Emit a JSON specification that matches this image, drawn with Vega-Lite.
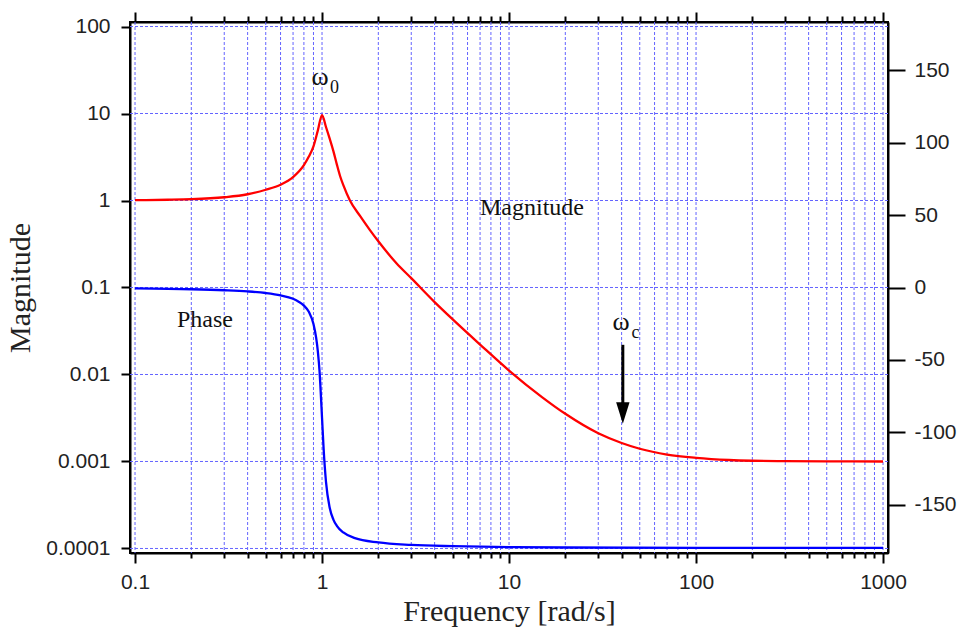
{
  "$schema": "https://vega.github.io/schema/vega-lite/v6.json",
  "width": 758,
  "height": 531,
  "autosize": "none",
  "padding": {"left": 130, "top": 22, "right": 70, "bottom": 80},
  "background": "white",
  "config": {
    "view": {"stroke": "black", "strokeWidth": 2},
    "axis": {
      "labelFont": "Liberation Sans",
      "labelFontSize": 21,
      "labelColor": "#222222",
      "titleFont": "Liberation Serif",
      "titleFontSize": 30,
      "titleFontWeight": "normal",
      "titleColor": "#222222",
      "domainColor": "black",
      "domainWidth": 2,
      "tickColor": "black",
      "tickWidth": 2,
      "labelFlush": false,
      "labelOverlap": false,
      "grid": false
    }
  },
  "layer": [
    {
      "layer": [
        {
          "data": {"values": [
            {"gx": 0.1}, {"gx": 0.2}, {"gx": 0.3}, {"gx": 0.4}, {"gx": 0.5}, {"gx": 0.6}, {"gx": 0.7}, {"gx": 0.8}, {"gx": 0.9},
            {"gx": 1}, {"gx": 2}, {"gx": 3}, {"gx": 4}, {"gx": 5}, {"gx": 6}, {"gx": 7}, {"gx": 8}, {"gx": 9},
            {"gx": 10}, {"gx": 20}, {"gx": 30}, {"gx": 40}, {"gx": 50}, {"gx": 60}, {"gx": 70}, {"gx": 80}, {"gx": 90},
            {"gx": 100}, {"gx": 200}, {"gx": 300}, {"gx": 400}, {"gx": 500}, {"gx": 600}, {"gx": 700}, {"gx": 800}, {"gx": 900},
            {"gx": 1000}
          ]},
          "mark": {"type": "rule", "color": "#6464ff", "strokeWidth": 1, "strokeDash": [3, 2]},
          "encoding": {
            "x": {"field": "gx", "type": "quantitative", "title": "Frequency [rad/s]", "scale": {"type": "log", "domain": [0.094, 1063], "nice": false}}
          }
        },
        {
          "data": {"values": [{"gy": 0.0001}, {"gy": 0.001}, {"gy": 0.01}, {"gy": 0.1}, {"gy": 1}, {"gy": 10}, {"gy": 100}]},
          "mark": {"type": "rule", "color": "#6464ff", "strokeWidth": 1, "strokeDash": [3, 2]},
          "encoding": {
            "y": {"field": "gy", "type": "quantitative", "title": "Magnitude", "scale": {"type": "log", "domain": [8.87e-5, 112.7], "nice": false}}
          }
        },
        {
          "data": {
            "values": [
              {"f": 0.1, "mag": 1.01}, {"f": 0.15, "mag": 1.02}, {"f": 0.2, "mag": 1.035},
              {"f": 0.3, "mag": 1.09}, {"f": 0.4, "mag": 1.18}, {"f": 0.5, "mag": 1.33},
              {"f": 0.6, "mag": 1.52}, {"f": 0.7, "mag": 1.86}, {"f": 0.8, "mag": 2.55},
              {"f": 0.85, "mag": 3.2}, {"f": 0.9, "mag": 4.2}, {"f": 0.95, "mag": 6.4},
              {"f": 1.0, "mag": 9.6}, {"f": 1.05, "mag": 7.0}, {"f": 1.1, "mag": 5.1},
              {"f": 1.15, "mag": 3.7}, {"f": 1.2, "mag": 2.6}, {"f": 1.25, "mag": 1.9},
              {"f": 1.3, "mag": 1.5}, {"f": 1.41, "mag": 1.0}, {"f": 1.6, "mag": 0.66},
              {"f": 1.8, "mag": 0.46}, {"f": 2, "mag": 0.34}, {"f": 2.5, "mag": 0.19},
              {"f": 3, "mag": 0.128}, {"f": 4, "mag": 0.068}, {"f": 5, "mag": 0.043},
              {"f": 7, "mag": 0.0221}, {"f": 10, "mag": 0.0111}, {"f": 15, "mag": 0.0055},
              {"f": 20, "mag": 0.00353}, {"f": 30, "mag": 0.00211}, {"f": 40, "mag": 0.00163},
              {"f": 50, "mag": 0.0014}, {"f": 70, "mag": 0.0012}, {"f": 100, "mag": 0.0011},
              {"f": 150, "mag": 0.00104}, {"f": 200, "mag": 0.00102}, {"f": 300, "mag": 0.00101},
              {"f": 500, "mag": 0.001004}, {"f": 1000, "mag": 0.001}
            ]
          },
          "mark": {"type": "line", "color": "#ff0000", "strokeWidth": 2.3, "interpolate": "monotone"},
          "encoding": {
            "x": {
              "field": "f", "type": "quantitative", "title": "Frequency [rad/s]",
              "scale": {"type": "log", "domain": [0.094, 1063], "nice": false},
              "axis": {
                "orient": "bottom",
                "values": [0.1,0.2,0.3,0.4,0.5,0.6,0.7,0.8,0.9,1,2,3,4,5,6,7,8,9,10,20,30,40,50,60,70,80,90,100,200,300,400,500,600,700,800,900,1000],
                "labelExpr": "indexof([0.1,1,10,100,1000], datum.value) >= 0 ? format(datum.value, '~g') : ''",
                "tickSize": {"condition": {"test": "indexof([0.1,1,10,100,1000], datum.value) >= 0", "value": 10}, "value": 5},
                "labelPadding": 8,
                "titlePadding": 4,
                "grid": false
              }
            },
            "y": {
              "field": "mag", "type": "quantitative", "title": "Magnitude",
              "scale": {"type": "log", "domain": [8.87e-5, 112.7], "nice": false},
              "axis": {
                "orient": "left",
                "values": [0.0001, 0.001, 0.01, 0.1, 1, 10, 100],
                "labelExpr": "format(datum.value, '~g')",
                "tickSize": 9,
                "labelPadding": 11,
                "titlePadding": 10,
                "grid": false
              }
            }
          }
        },
        {
          "data": {"values": [{"f": 13.27, "mag": 0.69, "label": "Magnitude"}, {"f": 0.2366, "mag": 0.0347, "label": "Phase"}]},
          "mark": {"type": "text", "font": "Liberation Serif", "fontSize": 24, "color": "#111111", "align": "center", "baseline": "alphabetic"},
          "encoding": {
            "x": {"field": "f", "type": "quantitative", "title": "Frequency [rad/s]"},
            "y": {"field": "mag", "type": "quantitative", "title": "Magnitude"},
            "text": {"field": "label"}
          }
        },
        {
          "data": {"values": [{"f": 0.976, "mag": 21.0, "label": "ω"}, {"f": 39.7, "mag": 0.0321, "label": "ω"}]},
          "mark": {"type": "text", "font": "Liberation Serif", "fontSize": 26, "color": "#111111", "align": "center", "baseline": "alphabetic"},
          "encoding": {
            "x": {"field": "f", "type": "quantitative", "title": "Frequency [rad/s]"},
            "y": {"field": "mag", "type": "quantitative", "title": "Magnitude"},
            "text": {"field": "label"}
          }
        },
        {
          "data": {"values": [{"f": 1.104, "mag": 17.0, "label": "0"}, {"f": 45.2, "mag": 0.02594, "label": "c"}]},
          "mark": {"type": "text", "font": "Liberation Serif", "fontSize": 18, "color": "#111111", "align": "left", "baseline": "alphabetic"},
          "encoding": {
            "x": {"field": "f", "type": "quantitative", "title": "Frequency [rad/s]"},
            "y": {"field": "mag", "type": "quantitative", "title": "Magnitude"},
            "text": {"field": "label"}
          }
        },
        {
          "data": {"values": [{"f": 40.6, "mag": 0.02193, "mag2": 0.00441}]},
          "mark": {"type": "rule", "color": "black", "strokeWidth": 3},
          "encoding": {
            "x": {"field": "f", "type": "quantitative", "title": "Frequency [rad/s]"},
            "y": {"field": "mag", "type": "quantitative", "title": "Magnitude"},
            "y2": {"field": "mag2"}
          }
        },
        {
          "data": {"values": [{"f": 40.6, "mag": 0.00361}]},
          "mark": {"type": "point", "shape": "M-0.62,-1L0.62,-1L0,1Z", "size": 467, "filled": true, "color": "black", "opacity": 1, "strokeWidth": 0},
          "encoding": {
            "x": {"field": "f", "type": "quantitative", "title": "Frequency [rad/s]"},
            "y": {"field": "mag", "type": "quantitative", "title": "Magnitude"}
          }
        }
      ]
    },
    {
      "data": {
        "values": [
          {"f": 0.1, "phase": -0.6}, {"f": 0.2, "phase": -1.2}, {"f": 0.3, "phase": -1.9},
          {"f": 0.4, "phase": -2.7}, {"f": 0.5, "phase": -3.8}, {"f": 0.6, "phase": -5.4},
          {"f": 0.7, "phase": -7.8}, {"f": 0.75, "phase": -9.8}, {"f": 0.8, "phase": -12.5},
          {"f": 0.85, "phase": -16.8}, {"f": 0.9, "phase": -25.3}, {"f": 0.93, "phase": -34.7},
          {"f": 0.95, "phase": -44.3}, {"f": 0.97, "phase": -58}, {"f": 0.98, "phase": -68},
          {"f": 1.0, "phase": -90}, {"f": 1.02, "phase": -111.6}, {"f": 1.05, "phase": -134.3},
          {"f": 1.1, "phase": -152.4}, {"f": 1.15, "phase": -160.4}, {"f": 1.2, "phase": -164.7},
          {"f": 1.3, "phase": -169.3}, {"f": 1.5, "phase": -173.2}, {"f": 2, "phase": -176.2},
          {"f": 3, "phase": -177.9}, {"f": 5, "phase": -178.8}, {"f": 10, "phase": -179.4},
          {"f": 20, "phase": -179.7}, {"f": 100, "phase": -179.9}, {"f": 1000, "phase": -180}
        ]
      },
      "mark": {"type": "line", "color": "#0000ff", "strokeWidth": 2.3, "interpolate": "monotone"},
      "encoding": {
        "x": {
          "field": "f", "type": "quantitative",
          "axis": {
            "orient": "top",
            "title": null,
            "values": [0.1,0.2,0.3,0.4,0.5,0.6,0.7,0.8,0.9,1,2,3,4,5,6,7,8,9,10,20,30,40,50,60,70,80,90,100,200,300,400,500,600,700,800,900,1000],
            "labels": false,
            "grid": false,
            "tickSize": {"condition": {"test": "indexof([0.1,1,10,100,1000], datum.value) >= 0", "value": 10}, "value": 6}
          }
        },
        "y": {
          "field": "phase", "type": "quantitative",
          "scale": {"domain": [-183.5, 183.5], "nice": false, "zero": false},
          "axis": {
            "orient": "right",
            "title": null,
            "values": [-150, -100, -50, 0, 50, 100, 150],
            "labelExpr": "datum.value < 0 ? '-' + abs(datum.value) : '' + datum.value",
            "tickSize": 17,
            "labelPadding": 9,
            "grid": false
          }
        }
      }
    }
  ],
  "resolve": {"scale": {"y": "independent"}, "axis": {"y": "independent", "x": "independent"}}
}
